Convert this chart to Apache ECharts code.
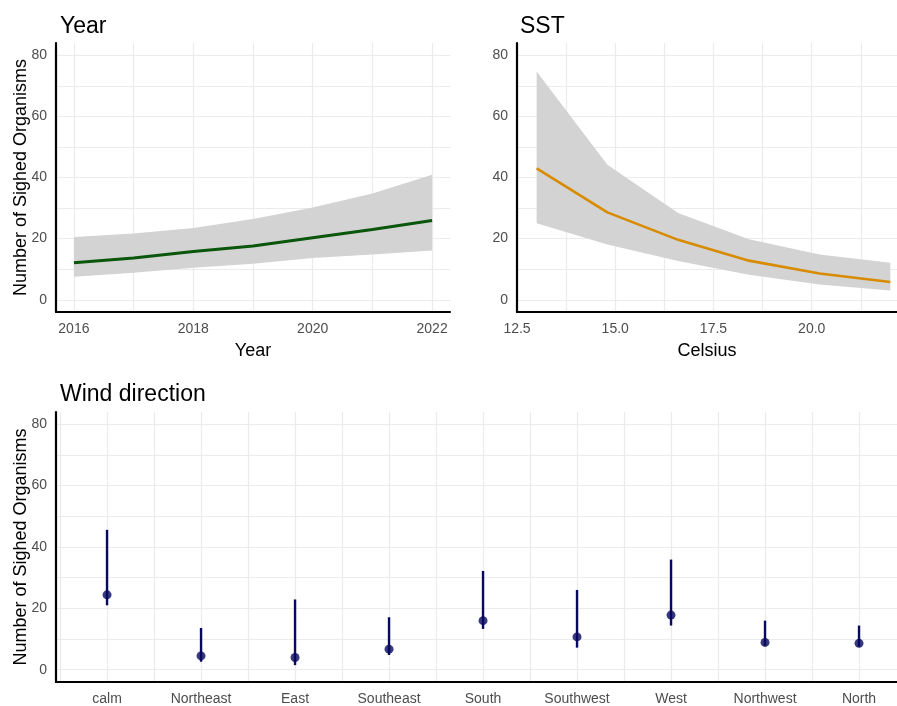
<!DOCTYPE html>
<html><head><meta charset="utf-8">
<script src="https://cdn.jsdelivr.net/npm/echarts@6/dist/echarts.min.js"></script>
<style>html,body{margin:0;padding:0;background:#fff}#c{width:897px;height:706px}</style>
</head><body><div id="c"></div>
<script>
// ---- data ----
const years = [2016, 2017, 2018, 2019, 2020, 2021, 2022];
const yearFit = [12.1, 13.7, 15.8, 17.6, 20.3, 23.0, 25.9];
const yearLower = [7.5, 8.8, 10.5, 11.8, 13.7, 14.8, 16.1];
const yearUpper = [20.5, 21.7, 23.5, 26.4, 30.2, 34.8, 40.9];

const sstX = [13.0, 14.8, 16.6, 18.4, 20.2, 22.0];
const sstFit = [43.0, 28.6, 19.6, 12.8, 8.6, 5.8];
const sstLower = [25.0, 18.1, 12.7, 8.2, 5.0, 3.0];
const sstUpper = [74.7, 44.2, 28.4, 19.8, 14.8, 12.1];

const windDirs = ['calm', 'Northeast', 'East', 'Southeast', 'South', 'Southwest', 'West', 'Northwest', 'North'];
const windFit = [24.4, 4.5, 4.0, 6.7, 16.0, 10.7, 17.8, 8.9, 8.6];
const windLower = [21.0, 2.6, 1.5, 4.8, 13.3, 7.2, 14.4, 7.8, 7.5];
const windUpper = [45.6, 13.6, 22.9, 17.1, 32.2, 26.0, 35.9, 16.0, 14.4];

const yTicks = [0, 20, 40, 60, 80];
const yearTicks = [2016, 2018, 2020, 2022];
const sstTicks = [12.5, 15.0, 17.5, 20.0];

// ---- styles ----
const FONT = "'Liberation Sans', Arial, sans-serif";
const GRID_COLOR = '#ebebeb';
const LABEL_COLOR = '#4d4d4d';
const NAVY = '#08085f';
const near = (v, arr) => arr.some(t => Math.abs(t - v) < 1e-6);

function yAxis(gi, withName) {
  return {
    type: 'value', gridIndex: gi, min: -4, max: 84, minInterval: 10, maxInterval: 10,
    axisLine: { show: true, onZero: false, lineStyle: { color: '#000', width: 2.2 } },
    axisTick: { show: false },
    axisLabel: { color: LABEL_COLOR, fontSize: 14, fontFamily: FONT, margin: 9,
      formatter: v => near(v, yTicks) ? String(Math.round(v)) : '' },
    splitLine: { show: true, showMinLine: false, showMaxLine: false, lineStyle: { color: GRID_COLOR, width: 1.2 } },
    name: withName ? 'Number of Sighed Organisms' : '',
    nameLocation: 'middle', nameGap: 26, nameMoveOverlap: false,
    nameTextStyle: { color: '#000', fontSize: 18, fontFamily: FONT }
  };
}
function xAxis(gi, min, max, step, fmt, name) {
  return {
    type: 'value', gridIndex: gi, min: min, max: max, minInterval: step, maxInterval: step,
    axisLine: { show: true, onZero: false, lineStyle: { color: '#000', width: 2.2 } },
    axisTick: { show: false },
    axisLabel: { color: LABEL_COLOR, fontSize: 14, fontFamily: FONT, margin: 10, formatter: fmt },
    splitLine: { show: true, showMinLine: false, showMaxLine: false, lineStyle: { color: GRID_COLOR, width: 1.2 } },
    name: name || '', nameLocation: 'middle', nameGap: 30, nameMoveOverlap: false,
    nameTextStyle: { color: '#000', fontSize: 18, fontFamily: FONT }
  };
}
function ribbon(xs, lo, hi, gi) {
  return {
    type: 'custom', xAxisIndex: gi, yAxisIndex: gi, silent: true, z: 1,
    data: xs.map((x, i) => [x, lo[i], hi[i]]),
    encode: { x: 0, y: [1, 2] },
    renderItem(params, api) {
      if (params.dataIndex !== 0) return null;
      const pts = [];
      for (let i = 0; i < xs.length; i++) pts.push(api.coord([xs[i], hi[i]]));
      for (let i = xs.length - 1; i >= 0; i--) pts.push(api.coord([xs[i], lo[i]]));
      return { type: 'polygon', shape: { points: pts }, style: { fill: '#d3d3d3' } };
    }
  };
}

const chart = echarts.init(document.getElementById('c'), null, { renderer: 'canvas' });
const titleStyle = { fontSize: 23, fontWeight: 'normal', color: '#000', fontFamily: FONT };
chart.setOption({
  backgroundColor: '#ffffff',
  animation: false,
  title: [
    { text: 'Year', left: 55, top: 10, textStyle: titleStyle },
    { text: 'SST', left: 515, top: 10, textStyle: titleStyle },
    { text: 'Wind direction', left: 55, top: 378, textStyle: titleStyle }
  ],
  grid: [
    { left: 56, top: 43, width: 394, height: 269, outerBoundsMode: 'none', containLabel: false },
    { left: 517, top: 43, width: 380, height: 269, outerBoundsMode: 'none', containLabel: false },
    { left: 56, top: 412, width: 841, height: 270, outerBoundsMode: 'none', containLabel: false }
  ],
  xAxis: [
    xAxis(0, 2015.7, 2022.3, 1, v => near(v, yearTicks) ? String(Math.round(v)) : '', 'Year'),
    xAxis(1, 12.5, 22.17, 1.25, v => near(v, sstTicks) ? v.toFixed(1) : '', 'Celsius'),
    xAxis(2, 0.457, 9.404, 0.5, v => (Math.abs(v - Math.round(v)) < 1e-6 && v >= 1 && v <= windDirs.length) ? windDirs[Math.round(v) - 1] : '', '')
  ],
  yAxis: [yAxis(0, true), yAxis(1, false), yAxis(2, true)],
  series: [
    ribbon(years, yearLower, yearUpper, 0),
    { type: 'line', xAxisIndex: 0, yAxisIndex: 0, z: 3, symbol: 'none',
      data: years.map((x, i) => [x, yearFit[i]]), lineStyle: { color: '#0a560a', width: 3 } },
    ribbon(sstX, sstLower, sstUpper, 1),
    { type: 'line', xAxisIndex: 1, yAxisIndex: 1, z: 3, symbol: 'none',
      data: sstX.map((x, i) => [x, sstFit[i]]), lineStyle: { color: '#d98b00', width: 2.6 } },
    { type: 'custom', xAxisIndex: 2, yAxisIndex: 2, z: 3,
      data: windDirs.map((d, i) => [i + 1, windLower[i], windUpper[i]]),
      encode: { x: 0, y: [1, 2] },
      renderItem(params, api) {
        const p1 = api.coord([api.value(0), api.value(1)]);
        const p2 = api.coord([api.value(0), api.value(2)]);
        return { type: 'line', shape: { x1: p1[0], y1: p1[1], x2: p2[0], y2: p2[1] },
          style: { stroke: NAVY, lineWidth: 2.4 } };
      } },
    { type: 'scatter', xAxisIndex: 2, yAxisIndex: 2, z: 4, symbol: 'circle', symbolSize: 9,
      data: windDirs.map((d, i) => [i + 1, windFit[i]]), itemStyle: { color: NAVY } }
  ]
});
</script>
</body></html>
